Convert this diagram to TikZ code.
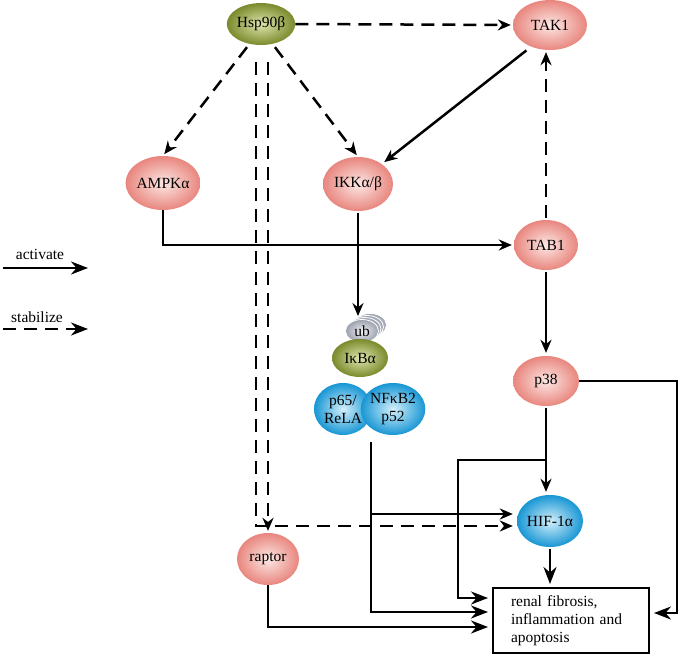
\documentclass[tikz,border=0pt]{standalone}
\usepackage{fontspec}
\setmainfont{Liberation Serif}
\usetikzlibrary{arrows.meta,shapes.geometric}
\definecolor{pinkin}{HTML}{FDE8E5}
\definecolor{pinkout}{HTML}{E8867E}
\definecolor{greenin}{HTML}{E0E6AE}
\definecolor{greenout}{HTML}{7A8A2C}
\definecolor{bluein}{HTML}{D4F0FB}
\definecolor{blueout}{HTML}{1896D4}
\definecolor{greyin}{HTML}{F0F1F4}
\definecolor{greyout}{HTML}{9AA0AC}
\begin{document}
\begin{tikzpicture}[x=1pt,y=-1pt,
  every node/.style={font=\fontsize{15.5}{18}\selectfont},
  bub/.style={ellipse, inner sep=0pt, shading=radial},
  pinkb/.style={bub, inner color=pinkin, outer color=pinkout},
  greenb/.style={bub, inner color=greenin, outer color=greenout},
  blueb/.style={bub, inner color=bluein, outer color=blueout},
  greyb/.style={bub, inner color=greyin, outer color=greyout, draw=white, line width=0.8pt},
  con/.style={line width=2.5pt, -{Stealth[length=13pt,width=11pt]}},
  dsh/.style={con, dash pattern=on 13pt off 8pt},
  big/.style={-{Stealth[length=17pt,width=13pt]}}
]
\useasboundingbox (0,0) rectangle (681,656);

% nodes
\node[greenb, minimum width=66pt, minimum height=42pt] (hsp) at (261,24) {Hsp90β};
\node[pinkb, minimum width=74pt, minimum height=50pt] (tak) at (550,25) {TAK1};
\node[pinkb, minimum width=66pt, minimum height=54pt] (ampk) at (163,183) {AMPKα};
\node[pinkb, minimum width=70pt, minimum height=54pt] (ikk) at (358,184) {IKKα/β};
\node[pinkb, minimum width=64pt, minimum height=50pt] (tab) at (546,245) {TAB1};
\node[pinkb, minimum width=66pt, minimum height=50pt] (p38) at (546,381) {p38};
\node[blueb, minimum width=66pt, minimum height=52pt] (hif) at (550,521) {HIF-1α};
\node[pinkb, minimum width=62pt, minimum height=52pt] (raptor) at (268,559) {raptor};
\node[greyb, minimum width=33pt, minimum height=23pt] (ub3) at (370,325) {};
\node[greyb, minimum width=33pt, minimum height=23pt] (ub2) at (367,327) {};
\node[greyb, minimum width=33pt, minimum height=23pt] (ub1) at (364.5,329) {};
\node[greyb, minimum width=33pt, minimum height=23pt] (ub) at (362,331) {ub};
\node[greenb, minimum width=56pt, minimum height=38pt] (ikb) at (360,358) {IκBα};
\node[blueb, minimum width=58pt, minimum height=52pt, align=center] (p65) at (343,409) {p65/\\ReLA};
\node[blueb, minimum width=54pt, minimum height=52pt, align=center] (nfk) at (393,409) {NFκB2\\p52};
\node[draw, line width=2pt, minimum width=156pt, minimum height=65pt,
      text width=120pt, inner xsep=18pt, align=left, anchor=north west]
      (box) at (492,587) {renal fibrosis,\\inflammation and\\apoptosis};

% legend
\node (lact) at (40,254) {activate};
\coordinate (la0) at (3,268);
\coordinate (la1) at (88,268);
\draw[con, big] (la0) -- (la1);
\node (lsta) at (37,317) {stabilize};
\coordinate (ls0) at (3,329);
\coordinate (ls1) at (88,329);
\draw[dsh, big] (ls0) -- (ls1);

% stabilize connectors
\draw[dsh, shorten >=2pt] (hsp.east) -- (tak.west);
\draw[dsh, shorten <=4pt, shorten >=2pt] (hsp.240) -- (ampk.north);
\draw[dsh, shorten <=4pt, shorten >=2pt] (hsp.300) -- (ikk.north);
\draw[dsh, shorten <=2pt, shorten >=2pt] (tab.north) -- (tab.north |- tak.south);
\coordinate (h1) at (256,62);
\coordinate (h1c) at (256,526);
\draw[dsh, shorten >=4pt] (h1) -- (h1c) -- (hif.west |- h1c);
\coordinate (h2) at (268,62);
\draw[dsh, shorten >=2pt] (h2) -- (raptor.north);

% activate connectors
\draw[con, shorten <=6pt, shorten >=3pt] (tak.229) -- (ikk.40);
\draw[con, shorten >=2pt] (ampk.south) |- (tab.west);
\draw[con, shorten <=2pt, shorten >=3pt] (ikk.south) -- (ikk.south |- ub.north);
\draw[con, shorten <=2pt, shorten >=3pt] (tab.south) -- (p38.north);
\draw[con, shorten <=2pt, shorten >=3pt] (p38.south) -- (p38.south |- hif.north);
\coordinate (j1) at (546,460);
\coordinate (c1) at (458,460);
\coordinate (c2) at (458,598);
\draw[con, big, shorten >=4pt] (j1) -- (c1) -- (c2) -- (box.west |- c2);
\coordinate (n0) at (371,442);
\coordinate (n1) at (371,514);
\coordinate (n2) at (371,612);
\draw[con, big, shorten >=4pt] (n0) -- (n2) -- (box.west |- n2);
\draw[con, shorten >=4pt] (n1) -- (hif.west |- n1);
\coordinate (r1) at (492,627);
\draw[con, big, shorten >=4pt] (raptor.south) |- (r1);
\coordinate (q2) at (677,613);
\draw[con, big, shorten >=4pt] (p38.east) -- (p38.east -| q2) -- (q2) -- (box.east |- q2);
\draw[con, big, shorten <=2pt, shorten >=3pt] (hif.south) -- (hif.south |- box.north);
\end{tikzpicture}
\end{document}
